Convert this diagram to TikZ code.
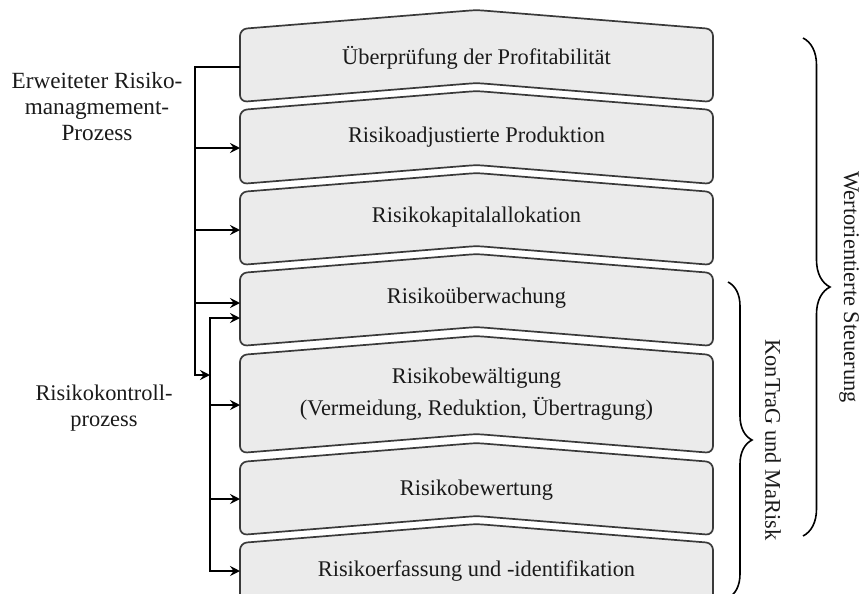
\documentclass[tikz,border=0pt]{standalone}
\usepackage{fontspec}
\setmainfont{Liberation Serif}
\usetikzlibrary{arrows.meta,decorations.pathreplacing,calc}
\definecolor{blkfill}{HTML}{EBEBEB}
\definecolor{blkline}{HTML}{3A3A3A}
\definecolor{txt}{HTML}{1A1A1A}
\newcommand\chevron[2]{\path[blk] (240,#1) -- (456.5,#1-17.4) .. controls (476.5,#1-19) .. (496.5,#1-17.4) -- (713,#1) -- (713,#2) -- (496.5,#2-17.4) .. controls (476.5,#2-19) .. (456.5,#2-17.4) -- (240,#2) -- cycle;}
\begin{document}
\begin{tikzpicture}[x=0.5pt,y=-0.5pt,
  blk/.style={draw=blkline,fill=blkfill,line width=0.85pt,rounded corners=3.5pt},
  lbl/.style={text=txt,font=\fontsize{11.2}{13}\selectfont,inner sep=0pt},
  conn/.style={draw=black,line width=1pt},
  arr/.style={conn,-{Stealth[length=5pt,width=5pt,inset=1.8pt]}},
  brc/.style={draw=black,line width=0.8pt,decorate,decoration={brace,amplitude=#1}},
]
\useasboundingbox (0,0) rectangle (862,594);
\clip (0,0) rectangle (862,594);

% blocks
\chevron{29}{102}
\chevron{110}{184}
\chevron{192}{265}
\chevron{273}{346}
\chevron{355}{453}
\chevron{462}{535}
\chevron{543}{616}

\node[lbl,anchor=base] (t1) at (476.5,64) {Überprüfung der Profitabilität};
\node[lbl,anchor=base] (t2) at (476.5,142) {Risikoadjustierte Produktion};
\node[lbl,anchor=base] (t3) at (476.5,222) {Risikokapitalallokation};
\node[lbl,anchor=base] (t4) at (476.5,303) {Risikoüberwachung};
\node[lbl,align=center,font=\fontsize{11.2}{16}\selectfont] (t5) at (476.5,394) {Risikobewältigung\\(Vermeidung, Reduktion, Übertragung)};
\node[lbl,anchor=base] (t6) at (476.5,495) {Risikobewertung};
\node[lbl,anchor=base] (t7) at (476.5,576) {Risikoerfassung und -identifikation};

% left labels
\node[lbl,align=center,font=\fontsize{11.6}{13}\selectfont] (erm) at (97,107) {Erweiteter Risiko-\\managmement-\\Prozess};
\node[lbl,align=center] (rkp) at (104,408) {Risikokontroll-\\prozess};

% entry points
\coordinate (w1) at (240,67);
\coordinate (w2) at (240,148);
\coordinate (w3) at (240,230);
\coordinate (w4a) at (240,303);
\coordinate (w4b) at (240,318);
\coordinate (w5) at (240,405);
\coordinate (w6) at (240,499);
\coordinate (w7) at (240,571);
\coordinate (busA) at (195,67);
\coordinate (busAend) at (195,375);
\coordinate (busBin) at (210,375);
\coordinate (busB) at (210,318);

% connectors
\draw[arr] (w1) -- (busA) -- (busAend) -- (busBin);
\draw[arr] (w2 -| busA) -- (w2);
\draw[arr] (w3 -| busA) -- (w3);
\draw[arr] (w4a -| busA) -- (w4a);
\draw[arr] (w7 -| busB) -- (busB) -- (w4b);
\draw[arr] (busB) |- (w7);
\draw[arr] (w5 -| busB) -- (w5);
\draw[arr] (w6 -| busB) -- (w6);

% braces
\draw[brc=13.5pt] (803,38) -- (803,536);
\draw[brc=12pt] (728,282) -- (728,598);
\node[lbl,rotate=-90] (ws) at (849,287) {Wertorientierte Steuerung};
\node[lbl,rotate=-90] (km) at (773,440) {KonTraG und MaRisk};
\end{tikzpicture}
\end{document}
